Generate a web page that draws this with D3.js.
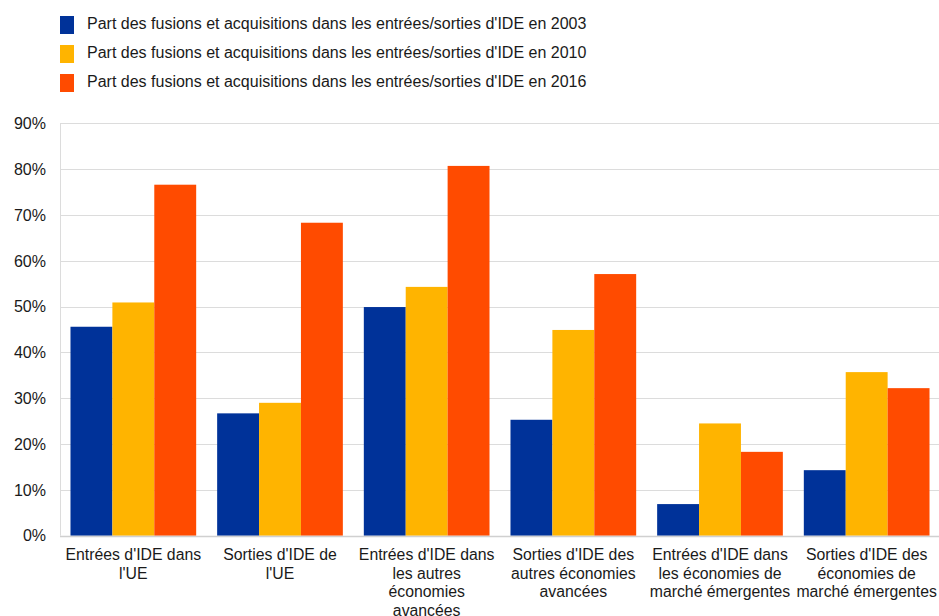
<!DOCTYPE html>
<html>
<head>
<meta charset="utf-8">
<script src="https://cdn.jsdelivr.net/npm/d3@7"></script>
<style>
  html, body { margin: 0; padding: 0; background: #fff; }
  svg { display: block; font-family: "Liberation Sans", Arial, sans-serif; }
</style>
</head>
<body>
<svg id="chart" width="939" height="616"></svg>
<script>
// Categories (each label split into its display lines)
const categories = [
  ["Entrées d'IDE dans", "l'UE"],
  ["Sorties d'IDE de", "l'UE"],
  ["Entrées d'IDE dans", "les autres", "économies", "avancées"],
  ["Sorties d'IDE des", "autres économies", "avancées"],
  ["Entrées d'IDE dans", "les économies de", "marché émergentes"],
  ["Sorties d'IDE des", "économies de", "marché émergentes"]
];

// Share of M&A in FDI flows (%), one array per year
const series2003 = [45.6, 26.7, 49.9, 25.3, 6.9, 14.3];
const series2010 = [50.9, 29.0, 54.3, 44.9, 24.5, 35.7];
const series2016 = [76.6, 68.3, 80.7, 57.1, 18.3, 32.2];

const seriesNames = [
  "Part des fusions et acquisitions dans les entrées/sorties d'IDE en 2003",
  "Part des fusions et acquisitions dans les entrées/sorties d'IDE en 2010",
  "Part des fusions et acquisitions dans les entrées/sorties d'IDE en 2016"
];
const seriesColors = ["#003299", "#FFB400", "#FF4B00"];

const yTicks = [0, 10, 20, 30, 40, 50, 60, 70, 80, 90];

const seriesList = [series2003, series2010, series2016];

const svg = d3.select("#chart");
const plot = { left: 60, right: 940, top: 123.3, bottom: 535.7 };

const x0 = d3.scaleBand()
  .domain(d3.range(categories.length))
  .range([plot.left, plot.right])
  .paddingInner(0.143)
  .paddingOuter(0.0715);

const x1 = d3.scaleBand()
  .domain(d3.range(seriesList.length))
  .range([0, x0.bandwidth()]);

const y = d3.scaleLinear().domain([0, 90]).range([plot.bottom, plot.top]);

// Horizontal gridlines
svg.append("g")
  .selectAll("line")
  .data(yTicks)
  .join("line")
  .attr("x1", plot.left)
  .attr("x2", plot.right)
  .attr("y1", d => Math.round(y(d)) + 0.5)
  .attr("y2", d => Math.round(y(d)) + 0.5)
  .attr("stroke", "#dcdcdc")
  .attr("stroke-width", 1);

// Left axis line
svg.append("line")
  .attr("x1", plot.left + 0.5).attr("x2", plot.left + 0.5)
  .attr("y1", y(90)).attr("y2", y(0))
  .attr("stroke", "#dcdcdc");

// Y tick labels
svg.append("g")
  .selectAll("text")
  .data(yTicks)
  .join("text")
  .attr("x", 46)
  .attr("y", d => y(d))
  .attr("dy", "0.36em")
  .attr("text-anchor", "end")
  .attr("font-size", 16)
  .attr("fill", "#1a1a1a")
  .text(d => d + "%");

// Bars
const groups = svg.append("g")
  .selectAll("g")
  .data(categories.map((c, i) => i))
  .join("g")
  .attr("transform", i => `translate(${x0(i)},0)`);

groups.selectAll("rect")
  .data(i => seriesList.map((s, k) => ({ k, v: s[i] })))
  .join("rect")
  .attr("x", d => x1(d.k))
  .attr("width", x1.bandwidth())
  .attr("y", d => y(d.v))
  .attr("height", d => y(0) - y(d.v))
  .attr("fill", d => seriesColors[d.k]);

// Bottom axis line
svg.append("line")
  .attr("x1", plot.left).attr("x2", plot.right)
  .attr("y1", Math.round(y(0)) + 0.5).attr("y2", Math.round(y(0)) + 0.5)
  .attr("stroke", "#d0d0d0")
  .attr("stroke-width", 1.5);

// Category labels
const catLabels = svg.append("g")
  .selectAll("text")
  .data(categories)
  .join("text")
  .attr("x", (d, i) => x0(i) + x0.bandwidth() / 2)
  .attr("y", 560)
  .attr("text-anchor", "middle")
  .attr("font-size", 15.8)
  .attr("fill", "#1a1a1a");

catLabels.selectAll("tspan")
  .data(d => d)
  .join("tspan")
  .attr("x", function () { return d3.select(this.parentNode).attr("x"); })
  .attr("dy", (d, j) => j === 0 ? 0 : 18.5)
  .text(d => d);

// Legend
const legend = svg.append("g")
  .selectAll("g")
  .data(seriesNames)
  .join("g")
  .attr("transform", (d, i) => `translate(60,${16 + i * 29})`);

legend.append("rect")
  .attr("width", 14)
  .attr("height", 18)
  .attr("fill", (d, i) => seriesColors[i]);

legend.append("text")
  .attr("x", 27)
  .attr("y", 12.5)
  .attr("font-size", 16)
  .attr("fill", "#1a1a1a")
  .text(d => d);
</script>
</body>
</html>
